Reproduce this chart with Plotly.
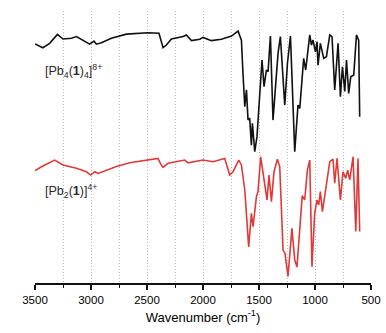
import plotly.graph_objects as go

# Wavenumbers (cm-1) and transmittance (arbitrary %, offset traces)
wn_pb4 = [3500, 3430, 3369, 3300, 3250, 3175, 3130, 3071, 3012, 2973, 2952, 2907, 2818, 2684,
          2565, 2491, 2393, 2371, 2357, 2327, 2282, 2178, 2148, 2103, 2029, 2000, 1925, 1836,
          1746, 1687, 1657, 1643, 1627, 1612, 1598, 1583, 1568, 1559, 1538, 1518, 1494, 1473,
          1455, 1434, 1419, 1398, 1375, 1330, 1309, 1270, 1246, 1219, 1181, 1152, 1136, 1101,
          1083, 1047, 1032, 1018, 996, 982, 973, 952, 922, 898, 868, 848, 824, 794, 773, 755,
          734, 719, 699, 681, 654, 630, 610, 601]
t_pb4 = [87.9, 86.5, 88.1, 91.4, 89.7, 90.0, 90.6, 89.1, 87.8, 88.9, 87.8, 88.3, 90.0, 91.5,
         91.8, 92.0, 91.8, 88.1, 86.5, 87.5, 89.7, 90.6, 91.2, 89.1, 89.6, 90.3, 89.1, 89.6,
         90.8, 92.6, 89.3, 77.1, 64.8, 71.0, 59.9, 60.6, 50.7, 58.7, 48.3, 53.8, 69.7, 82.0,
         72.2, 78.3, 77.7, 90.8, 59.9, 84.4, 90.6, 65.4, 80.8, 90.8, 48.3, 65.4, 64.2, 82.6,
         78.3, 91.2, 87.5, 89.3, 85.0, 88.7, 80.1, 88.1, 82.6, 83.2, 91.2, 90.6, 71.0, 88.1,
         68.5, 79.5, 70.4, 82.0, 69.7, 75.8, 76.5, 91.2, 89.3, 61.1]

wn_pb2 = [3500, 3430, 3324, 3250, 3130, 3041, 3003, 2967, 2937, 2773, 2654, 2505, 2402, 2378,
          2357, 2312, 2237, 2163, 2134, 2000, 1911, 1806, 1761, 1732, 1681, 1657, 1627, 1592,
          1568, 1553, 1523, 1509, 1485, 1455, 1428, 1411, 1389, 1366, 1336, 1315, 1285, 1268,
          1241, 1206, 1181, 1161, 1114, 1092, 1068, 1047, 1027, 1003, 982, 967, 952, 934, 904,
          868, 839, 824, 803, 773, 750, 726, 708, 690, 660, 636, 616, 601]
t_pb2 = [41.3, 43.0, 45.2, 43.4, 42.2, 40.9, 39.7, 40.9, 40.3, 42.8, 44.2, 45.0, 45.8, 43.8,
         42.5, 44.0, 44.6, 45.2, 44.2, 45.2, 44.6, 45.8, 39.7, 40.9, 45.2, 43.4, 34.2, 13.3,
         25.6, 20.7, 31.7, 33.6, 46.4, 37.9, 30.5, 39.7, 29.9, 40.9, 45.5, 42.8, 12.1, 10.9,
         2.4, 20.1, 8.5, 5.9, 32.1, 30.5, 41.5, 45.2, 6.0, 25.6, 30.5, 28.7, 33.6, 26.2, 35.4,
         44.6, 45.5, 36.7, 45.8, 30.5, 40.9, 38.5, 41.5, 37.9, 46.4, 18.9, 45.8, 18.9]

tick_vals = [3500, 3000, 2500, 2000, 1500, 1000, 500]
tick_text = ["3500", "3000", "2500", "2000", "1500", "1000", "500"]

label_pb4 = "[Pb<sub>4</sub>(<b>1</b>)<sub>4</sub>]<sup>8+</sup>"
label_pb2 = "[Pb<sub>2</sub>(<b>1</b>)]<sup>4+</sup>"

fig = go.Figure()
fig.add_trace(go.Scatter(x=wn_pb4, y=t_pb4, mode="lines",
                         line=dict(color="#111111", width=1.6), showlegend=False))
fig.add_trace(go.Scatter(x=wn_pb2, y=t_pb2, mode="lines",
                         line=dict(color="#e0393a", width=1.6), showlegend=False))

fig.add_annotation(x=3432, y=78, text=label_pb4, showarrow=False, xanchor="left",
                   yanchor="middle", font=dict(family="Liberation Sans, Arial", size=12.5, color="#2a2a2a"))
fig.add_annotation(x=3432, y=34, text=label_pb2, showarrow=False, xanchor="left",
                   yanchor="middle", font=dict(family="Liberation Sans, Arial", size=12.5, color="#2a2a2a"))

fig.update_layout(
    width=386, height=333,
    margin=dict(l=35, r=15, t=11, b=50),
    paper_bgcolor="white", plot_bgcolor="white",
    font=dict(family="Liberation Sans, Arial", color="#000000"),
    xaxis=dict(
        range=[3500, 500], tickvals=tick_vals, ticktext=tick_text,
        automargin=False,
        showline=True, linecolor="#111111", linewidth=1.5,
        ticks="outside", ticklen=5, tickwidth=1.5, tickcolor="#111111",
        tickfont=dict(size=11.5, color="#000000"),
        showgrid=True, gridcolor="#b8b8b8", griddash="1px,2px", gridwidth=1,
        minor=dict(dtick=250, tick0=0, ticks="outside", ticklen=3, tickwidth=1.2,
                   tickcolor="#111111", showgrid=True, gridcolor="#b8b8b8",
                   griddash="1px,2px", gridwidth=1),
        title=dict(text="Wavenumber (cm<sup>-1</sup>)", font=dict(size=13, color="#000000"),
                   standoff=8),
        zeroline=False,
    ),
    yaxis=dict(range=[0, 100], visible=False, showgrid=False, zeroline=False,
               automargin=False),
)

fig.write_html("out.html", config={"displayModeBar": False},
               post_script="document.body.style.margin='0';document.body.style.overflow='hidden';")
